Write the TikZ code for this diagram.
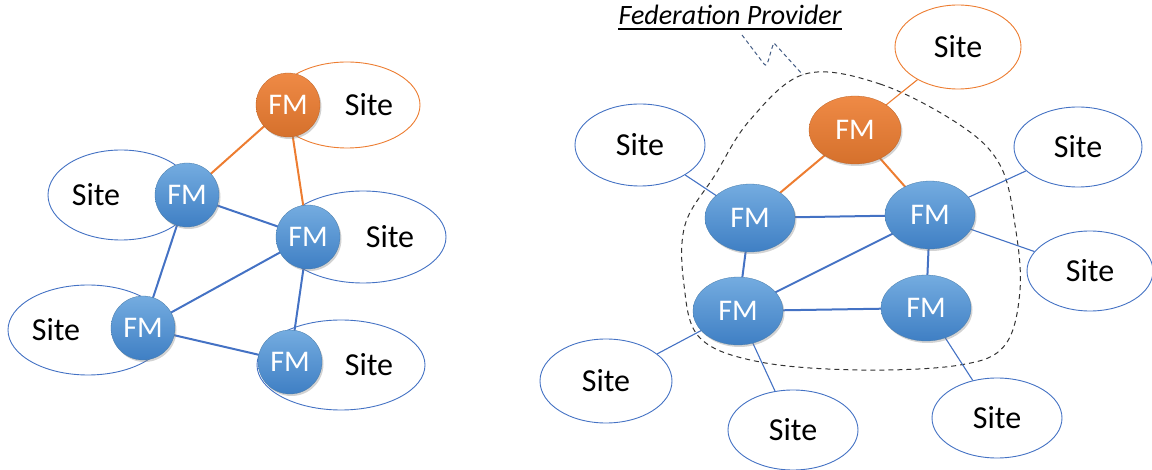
\documentclass[tikz,border=0pt]{standalone}
\usepackage{fontspec}
\setmainfont{Carlito}
\usetikzlibrary{shapes.geometric,shadows}
\definecolor{fmblue}{HTML}{5B9BD5}
\definecolor{fmbluetop}{HTML}{74ACE0}
\definecolor{fmbluebot}{HTML}{3F7FC4}
\definecolor{fmorange}{HTML}{ED7D31}
\definecolor{linkblue}{HTML}{4472C4}
\definecolor{calloutblue}{HTML}{44546A}
\tikzset{
  site/.style={ellipse, draw=linkblue, line width=0.9pt, fill=white,
    font=\fontsize{32}{35}\selectfont, text=black, inner sep=0pt},
  sitehot/.style={site, draw=fmorange},
  fmbase/.style={font=\fontsize{30}{33}\selectfont, text=white, inner sep=0pt,
    drop shadow={shadow xshift=1.5pt, shadow yshift=-2pt, opacity=0.35}},
  fmc/.style={fmbase, circle, minimum size=64pt, top color=fmbluetop, bottom color=fmbluebot, draw=fmblue!80!black, line width=0.3pt},
  fmchot/.style={fmc, top color=fmorange!90!white, bottom color=fmorange!90!black, draw=fmorange!80!black},
  fme/.style={fmbase, ellipse, minimum width=90pt, minimum height=68pt, top color=fmbluetop, bottom color=fmbluebot, draw=fmblue!80!black, line width=0.3pt},
  fmehot/.style={fme, top color=fmorange!90!white, bottom color=fmorange!90!black, draw=fmorange!80!black},
  core/.style={draw=linkblue, line width=2pt},
  corehot/.style={draw=fmorange, line width=2pt},
  spoke/.style={draw=linkblue, line width=1.1pt},
  spokehot/.style={draw=fmorange, line width=1.1pt},
}
\begin{document}
\begin{tikzpicture}[x=1pt,y=-1pt]
\useasboundingbox (0,0) rectangle (1152,470);

% ---------------- left: every site hosts its own manager ----------------
\node[sitehot, minimum width=146pt, minimum height=86pt] (ls1) at (347,105) {\hspace*{44pt}Site};
\node[site, minimum width=146pt, minimum height=90pt] (ls2) at (121,195) {Site\hspace*{50pt}};
\node[site, minimum width=166pt, minimum height=92pt] (ls3) at (363,237) {\hspace*{54pt}Site};
\node[site, minimum width=160pt, minimum height=90pt] (ls4) at (88,330) {Site\hspace*{64pt}};
\node[site, minimum width=168pt, minimum height=90pt] (ls5) at (341,365) {\hspace*{56pt}Site};

\coordinate (a1) at (288,105);
\coordinate (a2) at (187,195);
\coordinate (a3) at (308,237);
\coordinate (a4) at (143,328);
\coordinate (a5) at (290,362);

\path[corehot] (a1) -- (a2);
\path[corehot] (a1) -- (a3);
\path[core] (a2) -- (a3);
\path[core] (a2) -- (a4);
\path[core] (a3) -- (a4);
\path[core] (a3) -- (a5);
\path[core] (a4) -- (a5);

\node[fmchot] (lf1) at (a1) {FM};
\node[fmc] (lf2) at (a2) {FM};
\node[fmc] (lf3) at (a3) {FM};
\node[fmc] (lf4) at (a4) {FM};
\node[fmc] (lf5) at (a5) {FM};

% ---------------- right: managers pooled by a federation provider ----------------
\node[font=\fontsize{28}{31}\selectfont\itshape, inner sep=0pt] (fp) at (730,15) {Federation Provider};
\draw[line width=1.6pt] ([yshift=-4pt]fp.south west) -- ([yshift=-4pt]fp.south east);

\draw[black!80, dashed, line width=1pt, dash pattern=on 5pt off 4pt]
  plot[smooth cycle, tension=0.6] coordinates {
    (805,74) (880,84) (960,125) (1000,165) (1015,225) (1020,290)
    (1005,345) (960,365) (860,370) (760,362) (700,338) (684,285)
    (685,225) (715,175) (750,120)};

\coordinate (fpfoot) at (742,35);
\coordinate (fpbase) at (803,75);
\draw[calloutblue!70!linkblue, dashed, line width=1pt, dash pattern=on 4pt off 3pt]
  (fpfoot) -- (764,64) .. controls (768,70) and (770,50) .. (774,43) -- (fpbase);

\node[sitehot, minimum width=126pt, minimum height=84pt] (rs0) at (958,47) {Site};
\node[site, minimum width=130pt, minimum height=82pt] (rs1) at (640,145) {Site};
\node[site, minimum width=128pt, minimum height=80pt] (rs2) at (1078,147) {Site};
\node[site, minimum width=126pt, minimum height=80pt] (rs3) at (1090,271) {Site};
\node[site, minimum width=132pt, minimum height=84pt] (rs4) at (606,381) {Site};
\node[site, minimum width=130pt, minimum height=80pt] (rs5) at (793,430) {Site};
\node[site, minimum width=130pt, minimum height=80pt] (rs6) at (997,418) {Site};

\coordinate (b0) at (855,130);
\coordinate (b1) at (750,218);
\coordinate (b2) at (930,215);
\coordinate (b3) at (738,311);
\coordinate (b4) at (926,308);

\path[spokehot] (b0) -- (rs0);
\path[spoke] (b1) -- (rs1);
\path[spoke] (b2) -- (rs2);
\path[spoke] (b2) -- (rs3);
\path[spoke] (b3) -- (rs4);
\path[spoke] (b3) -- (rs5);
\path[spoke] (b4) -- (rs6);

\path[corehot] (b0) -- (b1);
\path[corehot] (b0) -- (b2);
\path[core] (b1) -- (b2);
\path[core] (b1) -- (b3);
\path[core] (b2) -- (b3);
\path[core] (b2) -- (b4);
\path[core] (b3) -- (b4);

\node[fmehot, minimum width=92pt, minimum height=68pt] (rf0) at (b0) {FM};
\node[fme] (rf1) at (b1) {FM};
\node[fme] (rf2) at (b2) {FM};
\node[fme] (rf3) at (b3) {FM};
\node[fme, minimum height=66pt] (rf4) at (b4) {FM};
\end{tikzpicture}
\end{document}
